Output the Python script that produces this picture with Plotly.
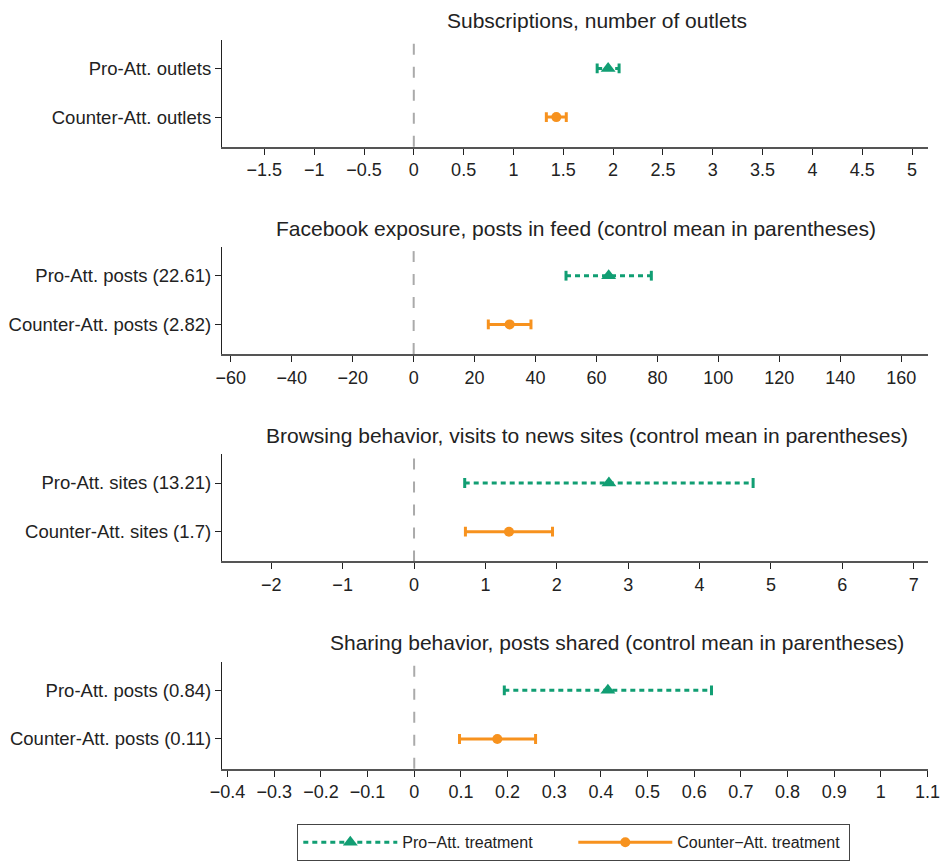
import plotly.graph_objects as go

# ---------------- data ----------------
panel_titles = [
    "Subscriptions, number of outlets",
    "Facebook exposure, posts in feed (control mean in parentheses)",
    "Browsing behavior, visits to news sites (control mean in parentheses)",
    "Sharing behavior, posts shared (control mean in parentheses)",
]
pro_labels = ["Pro-Att. outlets", "Pro-Att. posts (22.61)", "Pro-Att. sites (13.21)", "Pro-Att. posts (0.84)"]
counter_labels = ["Counter-Att. outlets", "Counter-Att. posts (2.82)", "Counter-Att. sites (1.7)", "Counter-Att. posts (0.11)"]

pro_est = [1.95, 64.0, 2.73, 0.415]
pro_lo = [1.84, 50.0, 0.71, 0.193]
pro_hi = [2.06, 78.0, 4.75, 0.637]

counter_est = [1.43, 31.5, 1.33, 0.178]
counter_lo = [1.33, 24.5, 0.72, 0.097]
counter_hi = [1.53, 38.5, 1.94, 0.260]

x_ranges = [[-1.925, 5.16], [-62.9, 168.8], [-2.69, 7.20], [-0.412, 1.101]]
x_ticks = [
    [-1.5, -1, -0.5, 0, 0.5, 1, 1.5, 2, 2.5, 3, 3.5, 4, 4.5, 5],
    [-60, -40, -20, 0, 20, 40, 60, 80, 100, 120, 140, 160],
    [-2, -1, 0, 1, 2, 3, 4, 5, 6, 7],
    [-0.4, -0.3, -0.2, -0.1, 0, 0.1, 0.2, 0.3, 0.4, 0.5, 0.6, 0.7, 0.8, 0.9, 1, 1.1],
]
title_centers = [597, 576, 587, 617]

series_names = ["Pro\u2212Att. treatment", "Counter\u2212Att. treatment"]
PRO_ROW, COUNTER_ROW = 2, 1

# ---------------- style ----------------
GREEN = "#119e73"
ORANGE = "#f7921e"
FONT = "Liberation Sans, Arial, sans-serif"
W, H = 941, 861
PLOT_L, PLOT_R = 222, 928
TOP0, PANEL_H, PITCH = 40, 108, 209


def fmt(v):
    return ("%g" % v).replace("-", "\u2212")


fig = go.Figure()
layout = {}
annotations = []
shapes = []

for i in range(4):
    n = "" if i == 0 else str(i + 1)
    xr, yr = "x" + n, "y" + n
    top = TOP0 + PITCH * i
    bot = top + PANEL_H

    fig.add_trace(go.Scatter(
        x=[pro_lo[i], pro_hi[i]], y=[PRO_ROW, PRO_ROW], xaxis=xr, yaxis=yr,
        mode="lines+markers", showlegend=False, hoverinfo="skip",
        line=dict(color=GREEN, width=3, dash="5px,4px"),
        marker=dict(symbol="line-ns", size=7, line=dict(color=GREEN, width=3)),
    ))
    fig.add_trace(go.Scatter(
        x=[pro_est[i]], y=[PRO_ROW], xaxis=xr, yaxis=yr, mode="markers",
        showlegend=False, marker=dict(symbol="triangle-up", size=13, color=GREEN),
    ))
    fig.add_trace(go.Scatter(
        x=[counter_lo[i], counter_hi[i]], y=[COUNTER_ROW, COUNTER_ROW], xaxis=xr, yaxis=yr,
        mode="lines+markers", showlegend=False, hoverinfo="skip",
        line=dict(color=ORANGE, width=3),
        marker=dict(symbol="line-ns", size=7, line=dict(color=ORANGE, width=3)),
    ))
    fig.add_trace(go.Scatter(
        x=[counter_est[i]], y=[COUNTER_ROW], xaxis=xr, yaxis=yr, mode="markers",
        showlegend=False, marker=dict(symbol="circle", size=10, color=ORANGE),
    ))

    layout["xaxis" + n] = dict(
        domain=[PLOT_L / W, PLOT_R / W], anchor=yr, range=x_ranges[i],
        tickvals=x_ticks[i], ticktext=[fmt(v) for v in x_ticks[i]],
        ticks="outside", ticklen=6, tickwidth=1.3, tickcolor="#222",
        showline=True, linecolor="#555", linewidth=2,
        showgrid=False, zeroline=False, automargin=False,
        ticklabeloverflow="allow",
        tickfont=dict(family=FONT, size=18, color="#222"), fixedrange=True,
    )
    layout["yaxis" + n] = dict(
        domain=[1 - bot / H, 1 - top / H], anchor=xr, range=[0.39, 2.59],
        tickvals=[COUNTER_ROW, PRO_ROW], ticktext=[counter_labels[i], pro_labels[i]],
        ticks="outside", ticklen=6, tickwidth=1.3, tickcolor="#222",
        showline=True, linecolor="#222", linewidth=1.3,
        showgrid=False, zeroline=False, automargin=False,
        ticklabeloverflow="allow",
        tickfont=dict(family=FONT, size=18.5, color="#222"), fixedrange=True,
    )

    shapes.append(dict(
        type="line", xref=xr, yref=yr + " domain", x0=0, x1=0, y0=0, y1=1,
        line=dict(color="#aaaaaa", width=2, dash="11px,12px"), layer="below",
    ))
    annotations.append(dict(
        text=panel_titles[i], xref="paper", yref="paper",
        x=title_centers[i] / W, y=1 - (top - 19) / H,
        xanchor="center", yanchor="middle", showarrow=False,
        font=dict(family=FONT, size=21, color="#222"),
    ))

# legend-only traces
fig.add_trace(go.Scatter(
    x=[None], y=[None], mode="lines+markers", name=series_names[0],
    line=dict(color=GREEN, width=3, dash="5px,4px"),
    marker=dict(symbol="triangle-up", size=13, color=GREEN),
))
fig.add_trace(go.Scatter(
    x=[None], y=[None], mode="lines+markers", name=series_names[1],
    line=dict(color=ORANGE, width=3),
    marker=dict(symbol="circle", size=10, color=ORANGE),
))

fig.update_layout(
    width=W, height=H,
    margin=dict(l=0, r=0, t=0, b=0),
    plot_bgcolor="white", paper_bgcolor="white",
    showlegend=True,
    legend=dict(
        orientation="h", x=297 / W, y=1 - 831 / H, xanchor="left", yanchor="top",
        bordercolor="#444", borderwidth=1.3, bgcolor="white",
        font=dict(family=FONT, size=16, color="#222"),
        itemwidth=94, entrywidth=166, entrywidthmode="pixels",
    ),
    annotations=annotations, shapes=shapes,
    **layout,
)

fig.write_html(
    "out.html",
    config={"displayModeBar": False},
    post_script="document.body.style.margin='0';document.body.style.overflow='hidden';",
)
